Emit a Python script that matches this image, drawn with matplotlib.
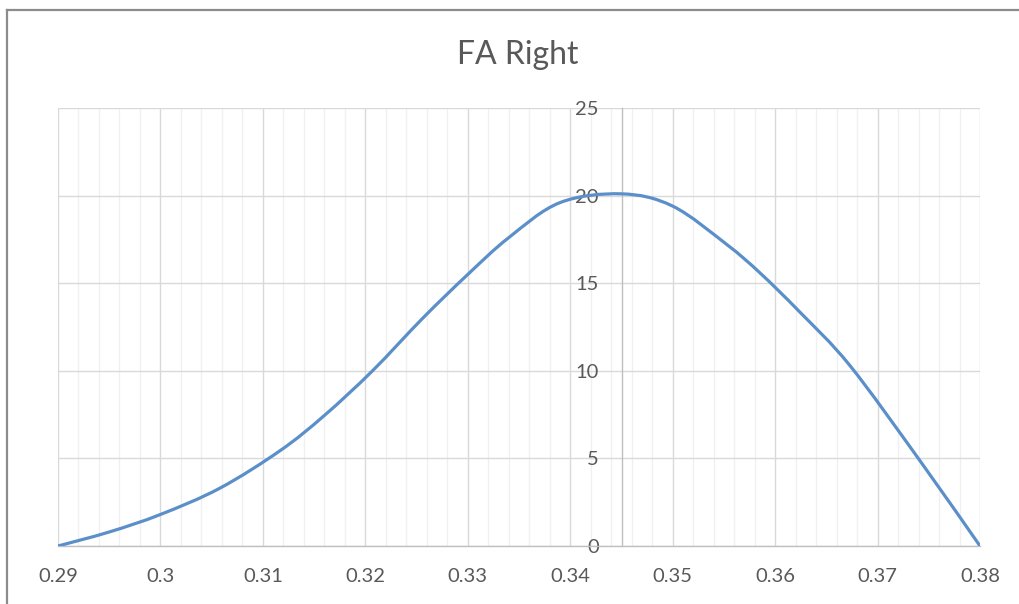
import numpy as np
import matplotlib.pyplot as plt
from matplotlib.path import Path
from matplotlib.patches import PathPatch
from matplotlib.ticker import MultipleLocator
from matplotlib.lines import Line2D

plt.rcParams['font.family'] = ['Lato', 'DejaVu Sans']

# Data
fa_values = [0.29, 0.295, 0.30, 0.3058, 0.3117, 0.316, 0.3207, 0.3256, 0.330, 0.334,
             0.339, 0.345, 0.350, 0.3553, 0.3585, 0.3624, 0.3673, 0.3741, 0.38]
counts = [0, 0.8, 1.8, 3.3, 5.45, 7.45, 10.0, 13.0, 15.5, 17.6,
          19.6, 20.1, 19.4, 17.2, 15.6, 13.36, 10.3, 4.9, 0]
x_ticks = [0.29, 0.30, 0.31, 0.32, 0.33, 0.34, 0.35, 0.36, 0.37, 0.38]
x_tick_labels = ['0.29', '0.3', '0.31', '0.32', '0.33', '0.34', '0.35', '0.36', '0.37', '0.38']
y_ticks = [0, 5, 10, 15, 20, 25]
title = 'FA Right'

TEXT = '#595959'


# Excel-style smoothed line: cubic Bezier segments through the data points
def smooth_path(xs, ys, tension=1 / 6):
    xs = np.asarray(xs, float)
    ys = np.asarray(ys, float)
    n = len(xs)
    verts = [(xs[0], ys[0])]
    codes = [Path.MOVETO]
    for i in range(n - 1):
        p0 = np.array([xs[max(i - 1, 0)], ys[max(i - 1, 0)]])
        p1 = np.array([xs[i], ys[i]])
        p2 = np.array([xs[i + 1], ys[i + 1]])
        p3 = np.array([xs[min(i + 2, n - 1)], ys[min(i + 2, n - 1)]])
        c1 = p1 + (p2 - p0) * tension
        c2 = p2 - (p3 - p1) * tension
        verts += [tuple(c1), tuple(c2), tuple(p2)]
        codes += [Path.CURVE4] * 3
    return Path(verts, codes)


fig = plt.figure(figsize=(10.19, 6.04), dpi=100)
ax = fig.add_axes([58 / 1019, 1 - 546 / 604, 922 / 1019, 438 / 604])

patch = PathPatch(smooth_path(fa_values, counts), facecolor='none',
                  edgecolor='#5b8fc9', linewidth=2.3, capstyle='round', zorder=5)
ax.add_patch(patch)

ax.set_xlim(0.29, 0.38)
ax.set_ylim(0, 25)
ax.set_xticks(x_ticks)
ax.set_xticklabels(x_tick_labels)
ax.set_yticks(y_ticks)
ax.xaxis.set_minor_locator(MultipleLocator(0.002))

ax.grid(which='major', color='#d9d9d9', linewidth=1.0)
ax.grid(which='minor', axis='x', color='#f0f0f0', linewidth=1.0)
ax.set_axisbelow(True)

for side in ['top', 'right']:
    ax.spines[side].set_visible(False)
ax.spines['left'].set_position(('data', 0.3451))
ax.spines['left'].set_color('#bfbfbf')
ax.spines['left'].set_linewidth(1.0)
ax.spines['left'].set_zorder(3)
ax.spines['bottom'].set_color('#bfbfbf')
ax.spines['bottom'].set_linewidth(1.0)

ax.tick_params(which='both', length=0)
ax.tick_params(axis='x', labelsize=14.5, labelcolor=TEXT, pad=16)
ax.tick_params(axis='y', labelsize=14.5, labelcolor=TEXT, pad=17)

fig.text(518 / 1019, 1 - 55 / 604, title, ha='center', va='center',
         fontsize=23, color=TEXT)

# outer chart border (only left and top visible in the crop)
fig.add_artist(Line2D([7 / 1019, 7 / 1019], [0, 1 - 10 / 604], color='#8c8c8c',
                      linewidth=1.6, transform=fig.transFigure))
fig.add_artist(Line2D([7 / 1019, 1], [1 - 10 / 604, 1 - 10 / 604], color='#8c8c8c',
                      linewidth=1.6, transform=fig.transFigure))

fig.savefig('out.png', dpi=100)
